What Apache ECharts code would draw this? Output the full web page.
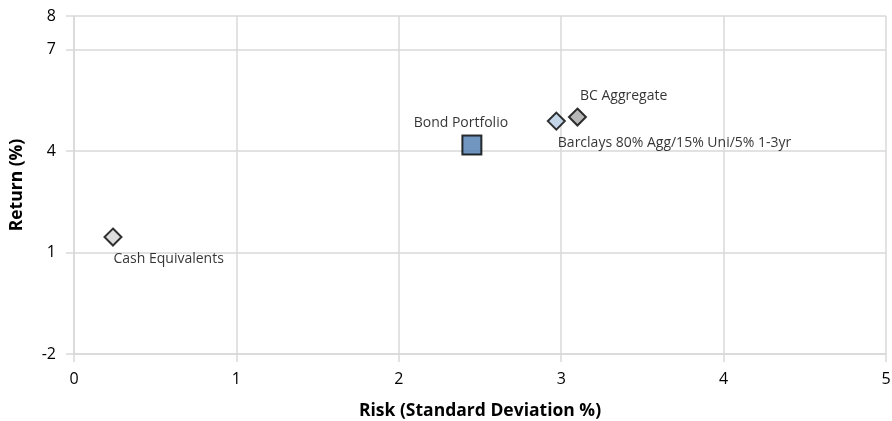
<!DOCTYPE html>
<html>
<head>
<meta charset="utf-8">
<script src="https://cdn.jsdelivr.net/npm/echarts@6/dist/echarts.min.js"></script>
<style>
  html, body { margin: 0; padding: 0; background: #fff; }
  #chart { width: 892px; height: 421px; }
</style>
</head>
<body>
<div id="chart"></div>
<script>
// Risk / return points
const names = ['Cash Equivalents', 'Bond Portfolio', 'Barclays 80% Agg/15% Uni/5% 1-3yr', 'BC Aggregate'];
const risk = [0.24, 2.45, 2.97, 3.10];
const ret = [1.46, 4.18, 4.89, 5.01];

const FONT = '"Open Sans", sans-serif';
const TEXT = '#000';

// per-point marker and label styling
const markStyles = [
  { symbol: 'diamond', size: 17, color: '#d4d4d4', label: { position: 'right', distance: 0, offset: [-9, 22] } },
  { symbol: 'rect', size: 19, color: '#4d7db0', label: { position: 'top', distance: 5, offset: [-11, 0] } },
  { symbol: 'diamond', size: 17, color: '#b8cce4', label: { position: 'right', distance: 0, offset: [-8, 22] } },
  { symbol: 'diamond', size: 17, color: '#a5a5a5', label: { position: 'right', distance: 0, offset: [-7, -21] } }
];

const series = names.map((n, i) => ({
  name: n,
  type: 'scatter',
  symbol: markStyles[i].symbol,
  symbolSize: markStyles[i].size,
  data: [[risk[i], ret[i]]],
  itemStyle: { color: markStyles[i].color, borderColor: '#000', borderWidth: 2 },
  label: Object.assign({
    show: true,
    formatter: n,
    color: TEXT,
    fontFamily: FONT,
    fontSize: 14
  }, markStyles[i].label),
  emphasis: { disabled: true }
}));

const gray = '#d9d9d9';
const chart = echarts.init(document.getElementById('chart'));
chart.setOption({
  animation: false,
  grid: { left: 74, right: 6, top: 16, bottom: 67, outerBoundsMode: 'none', containLabel: false },
  xAxis: {
    type: 'value', min: 0, max: 5, interval: 1,
    name: 'Risk (Standard Deviation %)', nameLocation: 'middle', nameGap: 48,
    nameTextStyle: { fontFamily: FONT, fontWeight: 'bold', fontSize: 17.5, color: TEXT },
    axisLine: { show: true, onZero: false, lineStyle: { color: gray, width: 1.5 } },
    axisTick: { show: true, length: 8, lineStyle: { color: gray, width: 1.5 } },
    axisLabel: { margin: 17, fontFamily: FONT, fontSize: 16, color: TEXT },
    splitLine: { show: true, lineStyle: { color: gray, width: 1.5 } }
  },
  yAxis: {
    type: 'value', min: -2, max: 8, interval: 3,
    name: 'Return (%)', nameLocation: 'middle', nameGap: 48, nameRotate: 90,
    nameTextStyle: { fontFamily: FONT, fontWeight: 'bold', fontSize: 17.5, color: TEXT },
    axisLine: { show: true, onZero: false, lineStyle: { color: gray, width: 1.5 } },
    axisTick: { show: true, length: 8, lineStyle: { color: gray, width: 1.5 } },
    axisLabel: { margin: 18, fontFamily: FONT, fontSize: 16, color: TEXT },
    splitLine: { show: true, lineStyle: { color: gray, width: 1.5 } }
  },
  series: series
});
</script>
</body>
</html>
